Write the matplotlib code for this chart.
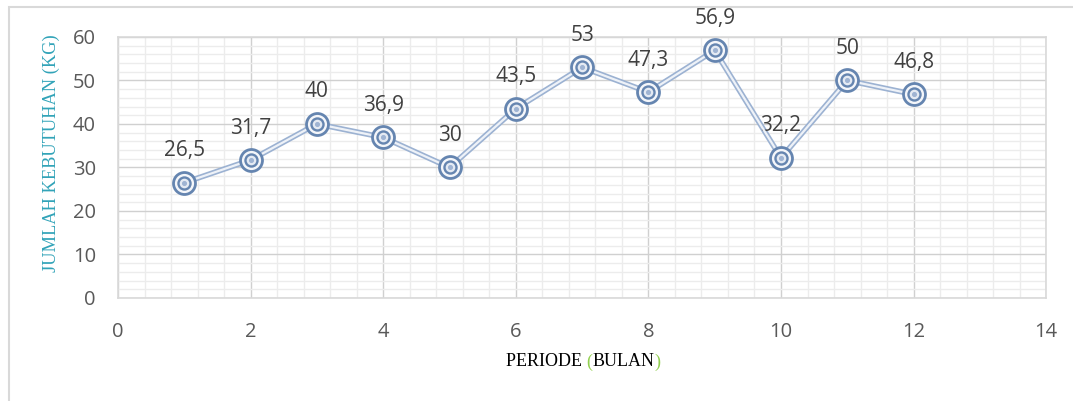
import matplotlib
matplotlib.use("Agg")
import matplotlib.pyplot as plt
from matplotlib.ticker import MultipleLocator
from matplotlib.patches import Rectangle

periode = [1, 2, 3, 4, 5, 6, 7, 8, 9, 10, 11, 12]
kebutuhan = [26.5, 31.7, 40, 36.9, 30, 43.5, 53, 47.3, 56.9, 32.2, 50, 46.8]
labels = ["26,5", "31,7", "40", "36,9", "30", "43,5", "53", "47,3", "56,9", "32,2", "50", "46,8"]

fig = plt.figure(figsize=(10.73, 4.01), dpi=100)
ax = fig.add_axes([0.110, 0.257, 0.865, 0.651])

# outer frame (left & top edges visible)
fig.patches.append(Rectangle((9/1073, -0.05), 1.2, 1 - 7/401 + 0.05, transform=fig.transFigure,
                             fill=False, edgecolor="#d9d9d9", linewidth=1.5))

ax.set_xlim(0, 14)
ax.set_ylim(0, 60)
ax.xaxis.set_major_locator(MultipleLocator(2))
ax.xaxis.set_minor_locator(MultipleLocator(0.4))
ax.yaxis.set_major_locator(MultipleLocator(10))
ax.yaxis.set_minor_locator(MultipleLocator(2))
ax.grid(which="major", color="#d0d0d0", linewidth=1.0)
ax.grid(which="minor", color="#ececec", linewidth=1.0)
ax.set_axisbelow(True)
for s in ax.spines.values():
    s.set_color("#d9d9d9")
    s.set_linewidth(1.2)
ax.tick_params(which="both", length=0)
ax.tick_params(axis="y", pad=16, labelsize=14.5, labelcolor="#595959")
ax.tick_params(axis="x", pad=17, labelsize=14.5, labelcolor="#595959")
for t in ax.get_xticklabels() + ax.get_yticklabels():
    t.set_fontfamily("Open Sans")

# double line
ax.plot(periode, kebutuhan, color="#9cb2d2", linewidth=4.0, solid_capstyle="round", zorder=3)
ax.plot(periode, kebutuhan, color="#eef2f8", linewidth=1.6, zorder=4)
# double-ring markers
ax.scatter(periode, kebutuhan, s=250, facecolor="#f4f6fa", edgecolor="#6585b0", linewidth=2.0, zorder=5)
ax.scatter(periode, kebutuhan, s=75, facecolor="#e4eaf3", edgecolor="#6585b0", linewidth=1.7, zorder=6)
ax.scatter(periode, kebutuhan, s=7, color="#9fb4d3", zorder=7)

for x, y, lab in zip(periode, kebutuhan, labels):
    ax.annotate(lab, (x, y), xytext=(0, 23), textcoords="offset points",
                ha="center", va="center", fontsize=15, color="#404040", fontfamily="Open Sans")

ax.set_ylabel("JUMLAH KEBUTUHAN (KG)", fontfamily="Liberation Serif", fontsize=13.2,
              color="#31a3b8")
ax.yaxis.set_label_coords(-0.0625, 0.556)

# x label with green parentheses (positions from prefix widths)
full = "PERIODE (BULAN)"
fp = dict(fontfamily="Liberation Serif", fontsize=13)
fig.canvas.draw()
r = fig.canvas.get_renderer()
def w(s):
    t = fig.text(0, 0, s, **fp)
    ww = t.get_window_extent(r).width
    t.remove()
    return ww
total = w(full)
x0 = 583 - total / 2
yl = 1 - 362/401
segs = [("PERIODE ", "black", 0), ("(", "#92d050", w("PERIODE ")),
        ("BULAN", "black", w("PERIODE (")), (")", "#92d050", w("PERIODE (BULAN"))]
for s, c, off in segs:
    fig.text((x0 + off) / 1073, yl, s, color=c, va="center", ha="left", **fp)

fig.savefig("out.png", dpi=100)
